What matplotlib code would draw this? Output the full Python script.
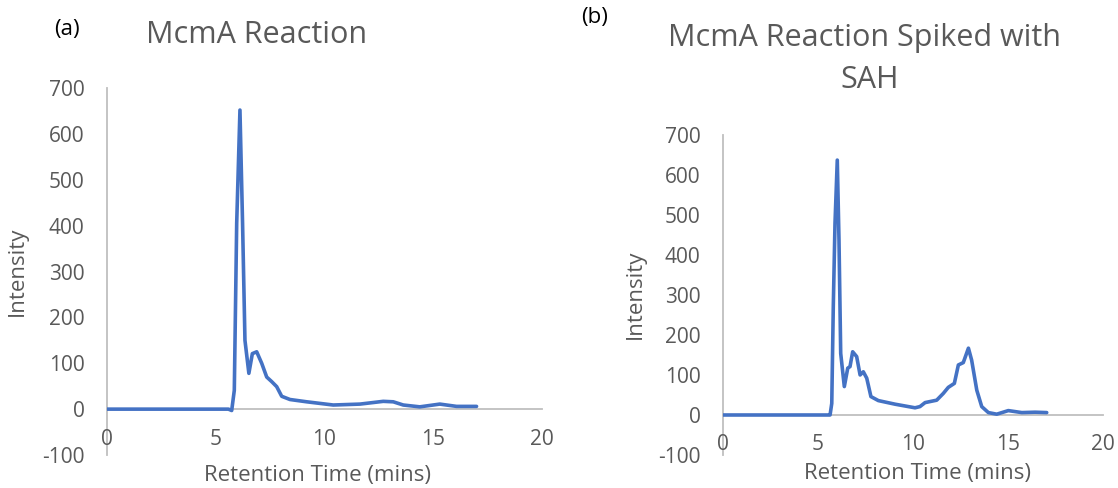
import matplotlib.pyplot as plt

plt.rcParams['font.family'] = ['Open Sans', 'DejaVu Sans']
plt.rcParams['axes.unicode_minus'] = False

# McmA reaction (a)
time_a = [0, 2, 4, 5.6, 5.75, 5.87, 5.98, 6.13, 6.25, 6.36, 6.54, 6.70, 6.90,
          7.13, 7.36, 7.59, 7.82, 8.05, 8.43, 9.20, 10.42, 11.65, 12.72, 13.18,
          13.64, 14.40, 15.32, 16.09, 17.01]
intensity_a = [0, 0, 0, 0, -3, 41, 405, 652, 405, 150, 78, 121, 125,
               100, 70, 60, 49, 28, 21, 16, 9, 11, 17, 16,
               9, 5, 11, 6, 6]

# McmA reaction spiked with SAH (b)
time_b = [0, 2, 4, 5.56, 5.65, 5.74, 5.82, 5.91, 6.03, 6.12, 6.21, 6.40, 6.58,
          6.70, 6.84, 7.05, 7.23, 7.40, 7.58, 7.80, 8.19, 9.07, 10.12, 10.38,
          10.65, 11.26, 11.61, 11.87, 12.19, 12.40, 12.66, 12.93, 13.10, 13.37,
          13.63, 13.98, 14.42, 15.03, 15.74, 16.44, 17.05]
intensity_b = [0, 0, 0, 0, 0, 29, 271, 479, 637, 437, 154, 71, 117,
               121, 158, 146, 100, 108, 92, 46, 36, 27, 18, 21,
               31, 37, 54, 69, 79, 125, 131, 167, 137, 62,
               21, 6, 2, 11, 6, 7, 6]

x_ticks = [0, 5, 10, 15, 20]
y_ticks = [-100, 0, 100, 200, 300, 400, 500, 600, 700]

line_color = '#4472C4'
text_color = '#595959'
axis_color = '#BFBFBF'
W, H = 1118, 488


def style_axes(ax, x, y):
    ax.plot(x, y, color=line_color, linewidth=2.6, zorder=5,
            solid_joinstyle='round', solid_capstyle='round')
    ax.set_xlim(0, 20)
    ax.set_ylim(-100, 700)
    ax.set_xticks(x_ticks)
    ax.set_yticks(y_ticks)
    ax.spines['top'].set_visible(False)
    ax.spines['right'].set_visible(False)
    ax.spines['bottom'].set_position(('data', 0))
    for side in ('bottom', 'left'):
        ax.spines[side].set_color(axis_color)
        ax.spines[side].set_linewidth(1.3)
        ax.spines[side].set_zorder(1)
    ax.tick_params(axis='x', length=0, pad=14, labelsize=15, labelcolor=text_color)
    ax.tick_params(axis='y', length=0, pad=16, labelsize=15, labelcolor=text_color)


def px(xp, yp):
    return xp / W, 1 - yp / H


fig = plt.figure(figsize=(11.18, 4.88), dpi=100)

ax_a = fig.add_axes([0.0954, 0.0676, 0.389, 0.752])
style_axes(ax_a, time_a, intensity_a)

ax_b = fig.add_axes([0.6464, 0.0676, 0.340, 0.656])
style_axes(ax_b, time_b, intensity_b)

title_kw = dict(fontsize=22, color=text_color, ha='center', va='center')
fig.text(*px(257, 35), 'McmA Reaction', **title_kw)
fig.text(*px(864, 38), 'McmA Reaction Spiked with', **title_kw)
fig.text(*px(870, 80), 'SAH', **title_kw)

label_kw = dict(fontsize=16, color=text_color, ha='center', va='center')
fig.text(*px(317, 475), 'Retention Time (mins)', **label_kw)
fig.text(*px(918, 473), 'Retention Time (mins)', **label_kw)
fig.text(*px(17, 271), 'Intensity', rotation=90, **label_kw)
fig.text(*px(635, 294), 'Intensity', rotation=90, **label_kw)

fig.text(*px(67, 30), '(a)', fontsize=16, ha='center', va='center')
fig.text(*px(595, 18), '(b)', fontsize=16, ha='center', va='center')

fig.savefig('out.png', dpi=100)
